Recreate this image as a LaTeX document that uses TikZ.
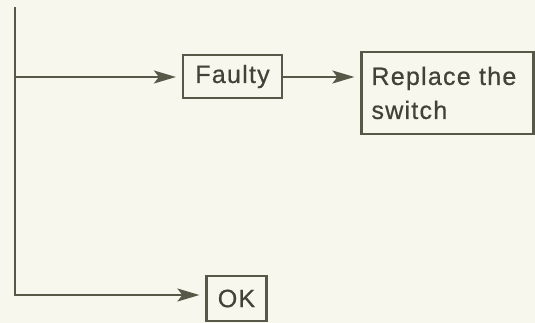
\documentclass[tikz,border=0pt]{standalone}
\usepackage{fontspec}
\setmainfont{Liberation Sans}[LetterSpace=5,FakeBold=0.6]
\usetikzlibrary{arrows.meta}
\definecolor{bgc}{RGB}{247,247,238}
\definecolor{inkc}{RGB}{88,88,72}
\definecolor{txtc}{RGB}{66,66,55}
\tikzset{
  boxnode/.style={draw=inkc, line width=2.2pt, text=txtc, font=\fontsize{25}{34}\selectfont, inner sep=0pt},
  conn/.style={draw=inkc, line width=2.2pt},
  arr/.style={conn, shorten >=6pt, -{Stealth[length=22pt,width=13pt,inset=5pt]}}
}
\begin{document}
\begin{tikzpicture}[x=1pt,y=-1pt]
\fill[bgc] (0,0) rectangle (535,323);
\useasboundingbox (0,0) rectangle (535,323);
\node[boxnode, minimum width=99pt, minimum height=43pt] (faulty) at (232.5,76.5) {Faulty};
\node[boxnode, minimum width=172pt, minimum height=82pt, text width=152pt, align=left] (replace) at (447.5,93) {Replace the\\switch};
\node[boxnode, minimum width=60pt, minimum height=45pt] (ok) at (236.5,298.5) {OK};
\coordinate (top) at (14.7,8);
\coordinate (mid) at (14.7,77);
\coordinate (bot) at (14.7,295);
\draw[conn, line cap=rect] (top) -- (bot);
\draw[arr] (mid) -- (mid -| faulty.west);
\draw[arr] (faulty.east |- mid) -- (mid -| replace.west);
\draw[arr] (bot) -- (bot -| ok.west);
\end{tikzpicture}
\end{document}
